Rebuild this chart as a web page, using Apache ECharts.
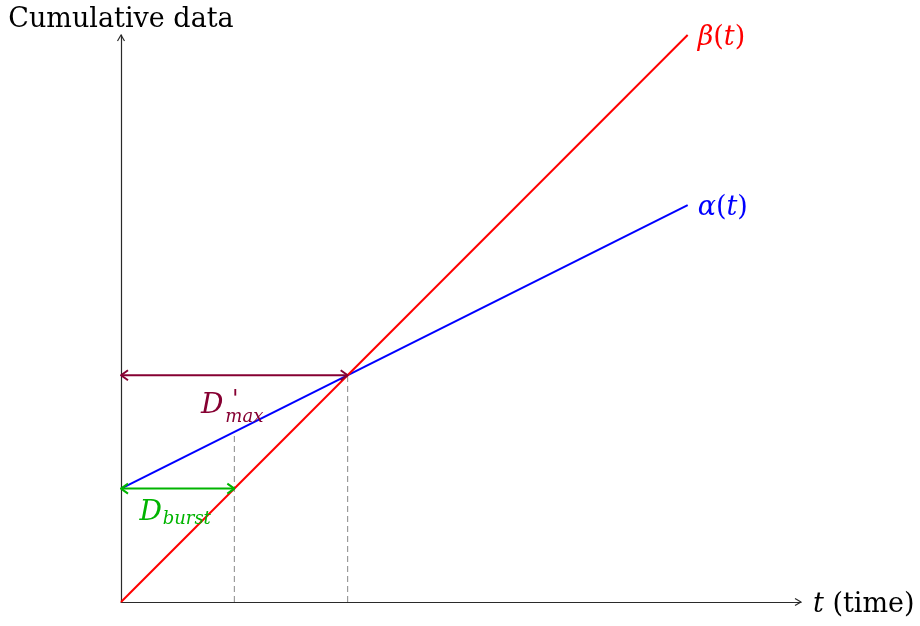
<!DOCTYPE html>
<html>
<head>
<meta charset="utf-8">
<script src="https://cdn.jsdelivr.net/npm/echarts@6/dist/echarts.min.js"></script>
<style>
  html, body { margin: 0; padding: 0; background: #ffffff; }
  #chart { width: 920px; height: 626px; }
</style>
</head>
<body>
<div id="chart"></div>
<script>
// Time samples and the two cumulative curves
const timePoints = [0, 5];
const betaValues = [0, 5];      // service curve β(t)
const alphaValues = [1, 3.5];   // arrival curve α(t)

// Horizontal delay spans: [from t, to t, level]
const burstSpan = [0, 1, 1];
const maxSpan = [0, 2, 2];

// Dashed drop lines: [t, height]
const dropLines = [[1, 1.5], [2, 2]];

// Axis extents
const tMax = 6;
const yMax = 5;

const SERIF = '"DejaVu Serif", serif';
const RED = '#ff0000';
const BLUE = '#0000ff';
const GREEN = '#00b400';
const PURPLE = '#860032';
const AXIS = '#2a2a2a';

function pairs(xs, ys) {
  return xs.map((x, i) => [x, ys[i]]);
}

// Open chevron head pointing towards tip (tx, ty) along direction (dx, dy)
function chevron(tx, ty, dx, dy, len, half, color, width) {
  const px = -dy, py = dx;
  return {
    type: 'polyline',
    shape: {
      points: [
        [tx - dx * len + px * half, ty - dy * len + py * half],
        [tx, ty],
        [tx - dx * len - px * half, ty - dy * len - py * half]
      ]
    },
    style: { stroke: color, lineWidth: width, fill: null, lineJoin: 'round' }
  };
}

function text(str, x, y, size, color, align, italic) {
  return {
    type: 'text',
    style: {
      text: str, x: x, y: y,
      font: (italic ? 'italic ' : '') + size + 'px ' + SERIF,
      fill: color, align: align, verticalAlign: 'middle'
    }
  };
}

// Double-headed horizontal arrow with a label builder
function spanArrow(color, labelParts) {
  return function (params, api) {
    const a = api.coord([api.value(0), api.value(2)]);
    const b = api.coord([api.value(1), api.value(2)]);
    const mx = (a[0] + b[0]) / 2, my = a[1];
    const children = [
      { type: 'line', shape: { x1: a[0], y1: a[1], x2: b[0], y2: b[1] },
        style: { stroke: color, lineWidth: 2 } },
      chevron(a[0], a[1], -1, 0, 7, 5, color, 2),
      chevron(b[0], b[1], 1, 0, 7, 5, color, 2)
    ];
    labelParts(mx, my).forEach(c => children.push(c));
    return { type: 'group', children: children };
  };
}

const chart = echarts.init(document.getElementById('chart'), null, { renderer: 'canvas' });

chart.setOption({
  animation: false,
  backgroundColor: '#ffffff',
  grid: { left: 121, top: 35, width: 680, height: 567, containLabel: false },
  xAxis: {
    type: 'value', min: 0, max: tMax,
    axisLine: { show: true, onZero: false, lineStyle: { color: AXIS, width: 1.2 } },
    axisTick: { show: false }, axisLabel: { show: false }, splitLine: { show: false },
    name: '{i|t} (time)', nameLocation: 'end', nameGap: 12,
    nameTextStyle: {
      fontFamily: SERIF, fontSize: 27, color: '#000', padding: [5, 0, 0, 0],
      rich: { i: { fontFamily: SERIF, fontSize: 27, fontStyle: 'italic', color: '#000' } }
    }
  },
  yAxis: {
    type: 'value', min: 0, max: yMax,
    axisLine: { show: true, onZero: false, lineStyle: { color: AXIS, width: 1.2 } },
    axisTick: { show: false }, axisLabel: { show: false }, splitLine: { show: false },
    name: 'Cumulative data', nameLocation: 'end', nameGap: 2,
    nameTextStyle: { fontFamily: SERIF, fontSize: 27, color: '#000', align: 'center' }
  },
  series: [
    {
      // dashed drop lines from the axis up to the curves
      type: 'custom', z: 1, clip: false,
      data: dropLines,
      renderItem: function (params, api) {
        const base = api.coord([api.value(0), 0]);
        const top = api.coord([api.value(0), api.value(1)]);
        return {
          type: 'line',
          shape: { x1: base[0], y1: base[1], x2: top[0], y2: top[1] },
          style: { stroke: '#888888', lineWidth: 1, lineDash: [6, 4] }
        };
      }
    },
    {
      type: 'line', z: 3, name: 'α(t)',
      data: pairs(timePoints, alphaValues),
      showSymbol: false, symbol: 'none',
      lineStyle: { color: BLUE, width: 2 },
      endLabel: {
        show: true, distance: 10, offset: [0, 3],
        formatter: '{i|α}{r|(}{i|t}{r|)}',
        rich: {
          i: { fontFamily: SERIF, fontSize: 27, fontStyle: 'italic', color: BLUE },
          r: { fontFamily: SERIF, fontSize: 27, color: BLUE }
        }
      }
    },
    {
      type: 'line', z: 4, name: 'β(t)',
      data: pairs(timePoints, betaValues),
      showSymbol: false, symbol: 'none',
      lineStyle: { color: RED, width: 2 },
      endLabel: {
        show: true, distance: 10, offset: [0, 3],
        formatter: '{i|β}{r|(}{i|t}{r|)}',
        rich: {
          i: { fontFamily: SERIF, fontSize: 27, fontStyle: 'italic', color: RED },
          r: { fontFamily: SERIF, fontSize: 27, color: RED }
        }
      }
    },
    {
      // axis arrow heads
      type: 'custom', z: 5, clip: false,
      data: [[tMax, 0, 1, 0], [0, yMax, 0, -1]],
      renderItem: function (params, api) {
        const p = api.coord([api.value(0), api.value(1)]);
        return chevron(p[0], p[1], api.value(2), api.value(3), 6, 3.5, AXIS, 1.2);
      }
    },
    {
      type: 'custom', z: 6, clip: false,
      data: [burstSpan],
      renderItem: spanArrow(GREEN, function (mx, my) {
        return [
          text('D', mx - 27, my + 24, 28, GREEN, 'center', true),
          text('burst', mx - 15, my + 31, 18, GREEN, 'left', true)
        ];
      })
    },
    {
      type: 'custom', z: 6, clip: false,
      data: [maxSpan],
      renderItem: spanArrow(PURPLE, function (mx, my) {
        return [
          text('D', mx - 22, my + 31, 28, PURPLE, 'center', true),
          text("'", mx + 1, my + 26, 24, PURPLE, 'center', true),
          text('max', mx - 9, my + 42, 18, PURPLE, 'left', true)
        ];
      })
    }
  ]
});
</script>
</body>
</html>
